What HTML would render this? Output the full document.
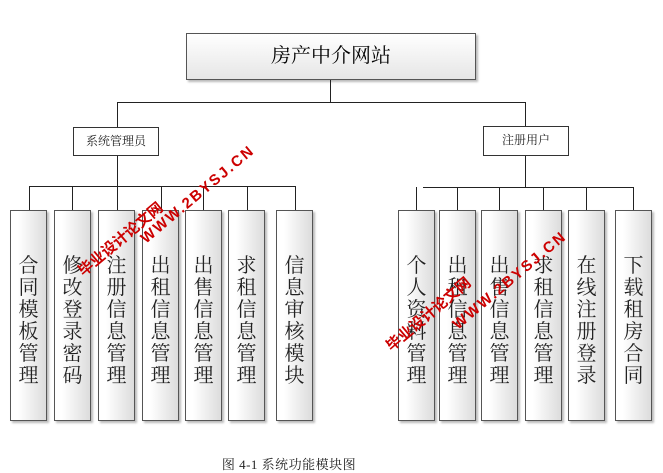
<!DOCTYPE html>
<html><head><meta charset="utf-8"><style>
body{margin:0;width:663px;height:473px;background:#fff;position:relative;overflow:hidden;font-family:"Liberation Serif","Noto Serif CJK SC","Noto Sans CJK SC",serif;}
.l{position:absolute;background:#222;}
.b{position:absolute;box-sizing:border-box;border:1px solid #555;background:linear-gradient(to right,#fff,#e4e4e4);box-shadow:2px 2px 2px #bbb;}
.v{position:absolute;box-sizing:border-box;border:1px solid #555;background:linear-gradient(to right,#fff 20%,#dcdcdc);box-shadow:2px 2px 2px #bbb;width:37px;height:211px;top:210px;font-size:20px;line-height:22px;text-align:center;padding-top:44px;color:#222;}
.s{position:absolute;box-sizing:border-box;border:1px solid #333;background:#fff;font-size:12px;text-align:center;line-height:27px;color:#222;}
.w{position:absolute;color:#c00;font-family:"Liberation Sans","Noto Sans CJK SC",sans-serif;font-weight:bold;transform-origin:left center;white-space:nowrap;}
</style></head><body>
<div class="b" style="left:186px;top:33px;width:290px;height:47px;background:linear-gradient(#fff,#e6e6e6);font-size:20px;text-align:center;line-height:45px;">房产中介网站</div>
<div class="l" style="left:330px;top:80px;width:1px;height:22px"></div>
<div class="l" style="left:117px;top:102px;width:409px;height:1px"></div>
<div class="l" style="left:117px;top:102px;width:1px;height:25px"></div>
<div class="l" style="left:525px;top:102px;width:1px;height:24px"></div>
<div class="s" style="left:73px;top:127px;width:86px;height:29px">系统管理员</div>
<div class="s" style="left:483px;top:126px;width:86px;height:30px">注册用户</div>
<div class="l" style="left:117px;top:156px;width:1px;height:30px"></div>
<div class="l" style="left:525px;top:156px;width:1px;height:31px"></div>
<div class="l" style="left:29px;top:186px;width:266px;height:1px"></div>
<div class="l" style="left:423px;top:187px;width:211px;height:1px"></div>
<div class="l" style="left:29px;top:186px;width:1px;height:24px"></div>
<div class="l" style="left:72px;top:186px;width:1px;height:24px"></div>
<div class="l" style="left:117px;top:186px;width:1px;height:24px"></div>
<div class="l" style="left:161px;top:186px;width:1px;height:24px"></div>
<div class="l" style="left:203px;top:186px;width:1px;height:24px"></div>
<div class="l" style="left:247px;top:186px;width:1px;height:24px"></div>
<div class="l" style="left:295px;top:186px;width:1px;height:24px"></div>
<div class="l" style="left:416px;top:187px;width:1px;height:23px"></div>
<div class="l" style="left:457px;top:187px;width:1px;height:23px"></div>
<div class="l" style="left:499px;top:187px;width:1px;height:23px"></div>
<div class="l" style="left:543px;top:187px;width:1px;height:23px"></div>
<div class="l" style="left:586px;top:187px;width:1px;height:23px"></div>
<div class="l" style="left:633px;top:187px;width:1px;height:23px"></div>
<div class="v" style="left:10px">合<br>同<br>模<br>板<br>管<br>理</div>
<div class="v" style="left:54px">修<br>改<br>登<br>录<br>密<br>码</div>
<div class="v" style="left:98px">注<br>册<br>信<br>息<br>管<br>理</div>
<div class="v" style="left:142px">出<br>租<br>信<br>息<br>管<br>理</div>
<div class="v" style="left:185px">出<br>售<br>信<br>息<br>管<br>理</div>
<div class="v" style="left:228px">求<br>租<br>信<br>息<br>管<br>理</div>
<div class="v" style="left:276px">信<br>息<br>审<br>核<br>模<br>块</div>
<div class="v" style="left:398px">个<br>人<br>资<br>料<br>管<br>理</div>
<div class="v" style="left:439px">出<br>租<br>信<br>息<br>管<br>理</div>
<div class="v" style="left:481px">出<br>售<br>信<br>息<br>管<br>理</div>
<div class="v" style="left:525px">求<br>租<br>信<br>息<br>管<br>理</div>
<div class="v" style="left:568px">在<br>线<br>注<br>册<br>登<br>录</div>
<div class="v" style="left:615px">下<br>载<br>租<br>房<br>合<br>同</div>
<div class="w" style="left:80px;top:262px;font-size:15px;transform:rotate(-40deg)">毕业设计论文网</div>
<div class="w" style="left:143px;top:232px;font-size:15px;letter-spacing:2px;transform:rotate(-40deg)">WWW.2BYSJ.CN</div>
<div class="w" style="left:388px;top:337px;font-size:15px;transform:rotate(-40deg)">毕业设计论文网</div>
<div class="w" style="left:455px;top:318px;font-size:15px;letter-spacing:2px;transform:rotate(-40deg)">WWW.2BYSJ.CN</div>
<div style="position:absolute;left:0;width:578px;top:454px;text-align:center;font-size:13px;letter-spacing:0.5px;color:#222">图 4-1 系统功能模块图</div>
</body></html>
